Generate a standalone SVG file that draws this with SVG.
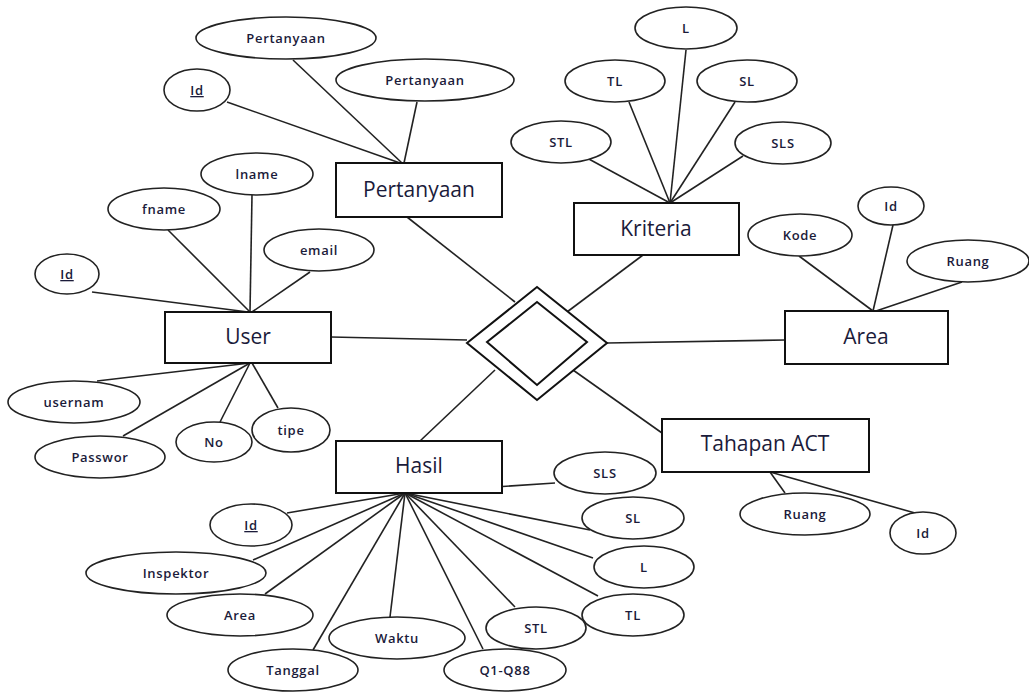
<svg xmlns="http://www.w3.org/2000/svg" width="1029" height="693" viewBox="0 0 1029 693">
<style>
.e{fill:#fff;stroke:#222;stroke-width:1.6}
.r{fill:#fff;stroke:#111;stroke-width:2}
.l{stroke:#222;stroke-width:1.6;fill:none}
.a{font-family:"Open Sans",sans-serif;font-size:13px;font-weight:600;fill:#1b1b3a;text-anchor:middle;letter-spacing:0.7px}
.t{font-family:"Open Sans",sans-serif;font-size:21px;fill:#1b1b3a;text-anchor:middle}
.u{text-decoration:underline}
</style>
<rect width="1029" height="693" fill="#fff"/>
<g id="connectors">
<line class="l" x1="293" y1="60" x2="402" y2="163"/>
<line class="l" x1="417" y1="102" x2="404" y2="163"/>
<line class="l" x1="227" y1="102" x2="400" y2="163"/>
<line class="l" x1="686" y1="50" x2="670" y2="203"/>
<line class="l" x1="629" y1="102" x2="670" y2="203"/>
<line class="l" x1="735" y1="102" x2="670" y2="203"/>
<line class="l" x1="587" y1="158" x2="670" y2="203"/>
<line class="l" x1="743" y1="156" x2="670" y2="203"/>
<line class="l" x1="252" y1="195" x2="250" y2="312"/>
<line class="l" x1="168" y1="230" x2="250" y2="312"/>
<line class="l" x1="310" y1="272" x2="252" y2="312"/>
<line class="l" x1="92" y1="292" x2="248" y2="312"/>
<line class="l" x1="97" y1="381" x2="250" y2="363"/>
<line class="l" x1="123" y1="436" x2="250" y2="363"/>
<line class="l" x1="220" y1="422" x2="250" y2="363"/>
<line class="l" x1="278" y1="408" x2="252" y2="363"/>
<line class="l" x1="331" y1="337" x2="467" y2="340"/>
<line class="l" x1="407" y1="217" x2="515" y2="302"/>
<line class="l" x1="643" y1="255" x2="567" y2="312"/>
<line class="l" x1="607" y1="343" x2="785" y2="340"/>
<line class="l" x1="495" y1="370" x2="420" y2="441"/>
<line class="l" x1="573" y1="370" x2="662" y2="433"/>
<line class="l" x1="799" y1="256" x2="873" y2="311"/>
<line class="l" x1="893" y1="225" x2="873" y2="311"/>
<line class="l" x1="962" y1="282" x2="876" y2="311"/>
<line class="l" x1="770" y1="472" x2="785" y2="493"/>
<line class="l" x1="770" y1="472" x2="915" y2="513"/>
<line class="l" x1="287" y1="513" x2="405" y2="493"/>
<line class="l" x1="253" y1="560" x2="405" y2="493"/>
<line class="l" x1="265" y1="594" x2="405" y2="493"/>
<line class="l" x1="313" y1="650" x2="405" y2="493"/>
<line class="l" x1="390" y1="617" x2="405" y2="493"/>
<line class="l" x1="483" y1="649" x2="405" y2="493"/>
<line class="l" x1="515" y1="607" x2="405" y2="493"/>
<line class="l" x1="598" y1="596" x2="405" y2="493"/>
<line class="l" x1="593" y1="558" x2="405" y2="493"/>
<line class="l" x1="590" y1="530" x2="405" y2="493"/>
<line class="l" x1="555" y1="483" x2="405" y2="493"/>
</g>
<g id="rel">
<polygon class="r" points="537,287 607,343 537,400 467,343" stroke-width="1.6"/>
<polygon class="r" points="537,302 587,342 537,385 487,342" stroke-width="1.6"/>
</g>
<g id="pertanyaan"><rect class="r" x="336" y="163" width="166" height="54"/><text class="t" x="419" y="197">Pertanyaan</text></g>
<g id="kriteria"><rect class="r" x="574" y="203" width="165" height="52"/><text class="t" x="656" y="236">Kriteria</text></g>
<g id="user"><rect class="r" x="165" y="312" width="166" height="51"/><text class="t" x="248" y="344">User</text></g>
<g id="area"><rect class="r" x="785" y="311" width="163" height="53"/><text class="t" x="866" y="344">Area</text></g>
<g id="hasil"><rect class="r" x="336" y="441" width="166" height="52"/><text class="t" x="419" y="473">Hasil</text></g>
<g id="tahapan"><rect class="r" x="662" y="419" width="207" height="53"/><text class="t" x="765" y="451">Tahapan ACT</text></g>

<g id="p-pertanyaan1"><ellipse class="e" cx="286" cy="38" rx="90" ry="21"/><text class="a" x="286" y="43">Pertanyaan</text></g>
<g id="p-pertanyaan2"><ellipse class="e" cx="425" cy="80" rx="89" ry="21"/><text class="a" x="425" y="85">Pertanyaan</text></g>
<g id="p-id"><ellipse class="e" cx="197" cy="90" rx="33" ry="21"/><text class="a u" x="197" y="95">Id</text></g>

<g id="k-l"><ellipse class="e" cx="686" cy="28" rx="51" ry="21"/><text class="a" x="686" y="33">L</text></g>
<g id="k-tl"><ellipse class="e" cx="615" cy="81" rx="50" ry="21"/><text class="a" x="615" y="86">TL</text></g>
<g id="k-sl"><ellipse class="e" cx="747" cy="81" rx="50" ry="21"/><text class="a" x="747" y="86">SL</text></g>
<g id="k-stl"><ellipse class="e" cx="561" cy="142" rx="50" ry="21"/><text class="a" x="561" y="147">STL</text></g>
<g id="k-sls"><ellipse class="e" cx="783" cy="143" rx="48" ry="21"/><text class="a" x="783" y="148">SLS</text></g>

<g id="u-lname"><ellipse class="e" cx="257" cy="174" rx="56" ry="21"/><text class="a" x="257" y="179">lname</text></g>
<g id="u-fname"><ellipse class="e" cx="164" cy="209" rx="56" ry="21"/><text class="a" x="164" y="214">fname</text></g>
<g id="u-email"><ellipse class="e" cx="319" cy="250" rx="55" ry="21"/><text class="a" x="319" y="255">email</text></g>
<g id="u-id"><ellipse class="e" cx="67" cy="274" rx="32" ry="20"/><text class="a u" x="67" y="279">Id</text></g>
<g id="u-usernam"><ellipse class="e" cx="74" cy="402" rx="66" ry="21"/><text class="a" x="74" y="407">usernam</text></g>
<g id="u-passwor"><ellipse class="e" cx="100" cy="457" rx="65" ry="21"/><text class="a" x="100" y="462">Passwor</text></g>
<g id="u-no"><ellipse class="e" cx="214" cy="442" rx="38" ry="20"/><text class="a" x="214" y="447">No</text></g>
<g id="u-tipe"><ellipse class="e" cx="291" cy="430" rx="39" ry="22"/><text class="a" x="291" y="435">tipe</text></g>

<g id="a-kode"><ellipse class="e" cx="800" cy="235" rx="52" ry="21"/><text class="a" x="800" y="240">Kode</text></g>
<g id="a-id"><ellipse class="e" cx="891" cy="206" rx="33" ry="19"/><text class="a" x="891" y="211">Id</text></g>
<g id="a-ruang"><ellipse class="e" cx="968" cy="261" rx="61" ry="21"/><text class="a" x="968" y="266">Ruang</text></g>

<g id="t-ruang"><ellipse class="e" cx="805" cy="514" rx="65" ry="21"/><text class="a" x="805" y="519">Ruang</text></g>
<g id="t-id"><ellipse class="e" cx="923" cy="533" rx="33" ry="21"/><text class="a" x="923" y="538">Id</text></g>

<g id="h-id"><ellipse class="e" cx="251" cy="525" rx="41" ry="21"/><text class="a u" x="251" y="530">Id</text></g>
<g id="h-inspektor"><ellipse class="e" cx="176" cy="573" rx="90" ry="21"/><text class="a" x="176" y="578">Inspektor</text></g>
<g id="h-area"><ellipse class="e" cx="240" cy="615" rx="73" ry="21"/><text class="a" x="240" y="620">Area</text></g>
<g id="h-waktu"><ellipse class="e" cx="397" cy="638" rx="68" ry="21"/><text class="a" x="397" y="643">Waktu</text></g>
<g id="h-tanggal"><ellipse class="e" cx="293" cy="670" rx="65" ry="21"/><text class="a" x="293" y="675">Tanggal</text></g>
<g id="h-sls"><ellipse class="e" cx="605" cy="473" rx="51" ry="21"/><text class="a" x="605" y="478">SLS</text></g>
<g id="h-sl"><ellipse class="e" cx="633" cy="518" rx="51" ry="21"/><text class="a" x="633" y="523">SL</text></g>
<g id="h-l"><ellipse class="e" cx="644" cy="567" rx="50" ry="21"/><text class="a" x="644" y="572">L</text></g>
<g id="h-tl"><ellipse class="e" cx="633" cy="615" rx="51" ry="21"/><text class="a" x="633" y="620">TL</text></g>
<g id="h-stl"><ellipse class="e" cx="536" cy="628" rx="50" ry="21"/><text class="a" x="536" y="633">STL</text></g>
<g id="h-q"><ellipse class="e" cx="505" cy="670" rx="61" ry="21"/><text class="a" x="505" y="675">Q1-Q88</text></g>
</svg>
